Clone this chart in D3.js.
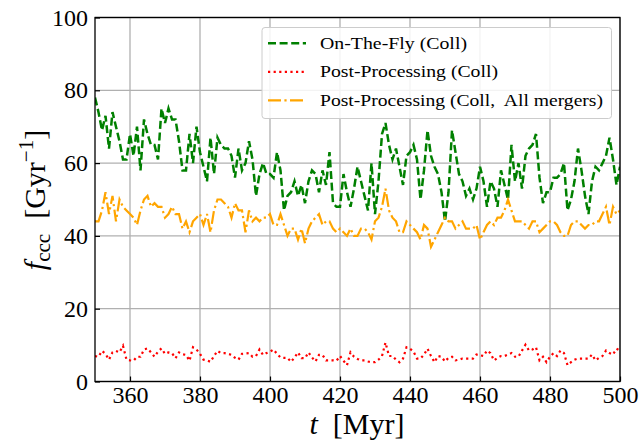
<!DOCTYPE html>
<html><head><meta charset="utf-8">
<script src="https://cdn.jsdelivr.net/npm/d3@7"></script>
<style>
html,body{margin:0;padding:0;background:#fff;}
svg{display:block;font-family:"Liberation Serif","DejaVu Serif",serif;}
</style></head>
<body>
<script>
// time in Myr
const timeMyr = [350,351,352,353,354,355,356,357,358,359,360,361,362,363,364,365,366,367,368,369,370,371,372,373,374,375,376,377,378,379,380,381,382,383,384,385,386,387,388,389,390,391,392,393,394,395,396,397,398,399,400,401,402,403,404,405,406,407,408,409,410,411,412,413,414,415,416,417,418,419,420,421,422,423,424,425,426,427,428,429,430,431,432,433,434,435,436,437,438,439,440,441,442,443,444,445,446,447,448,449,450,451,452,453,454,455,456,457,458,459,460,461,462,463,464,465,466,467,468,469,470,471,472,473,474,475,476,477,478,479,480,481,482,483,484,485,486,487,488,489,490,491,492,493,494,495,496,497,498,499,500];

const onTheFly = [78,74,69,73,64,74,70,66,61,61,68,62,70,58,72,68,65,65,61,75,71,75,72,72,66,58,58,68,60,70,63,59,55,67,57,67,65,64,64,62,56,64,58,60,66,61,51,57,60,57,57,56,63,58,47,51,52,55,51,54,49,55,58,57,52,58,54,63,49,48,48,57,52,48,53,59,55,51,47,60,46,55,68,71,65,61,64,59,54,62,63,65,61,50,58,69,62,59,57,52,44,52,69,63,57,55,51,53,50,53,59,55,48,55,53,48,58,54,50,65,55,60,53,62,64,65,68,56,49,52,52,56,56,57,60,47,50,55,64,58,51,46,55,59,58,60,62,67,61,54,59];

const postProc = [7.0,6.8,8.4,7.6,6.0,8.0,8.4,8.0,9.8,6.0,5.8,5.7,6.8,6.8,8.8,9.1,8.0,6.8,8.2,9.1,7.6,8.0,7.8,6.4,8.0,7.5,7.3,5.7,9.4,8.8,7.6,6.0,5.8,5.4,7.0,8.4,7.8,7.8,7.6,7.3,6.5,6.0,7.6,7.7,7.8,6.8,7.0,8.8,7.3,7.8,8.2,8.8,7.6,6.6,6.5,6.5,5.4,6.6,8.0,6.4,6.4,8.0,6.6,5.5,7.3,7.3,5.8,5.8,5.8,5.7,7.0,5.7,4.5,8.0,6.8,6.2,5.8,5.8,5.5,5.3,5.3,6.0,7.0,10.7,7.0,7.0,6.0,5.3,6.3,9.4,9.0,8.2,6.3,6.3,7.4,9.0,7.0,5.3,7.0,6.8,5.5,6.5,6.8,5.8,6.0,6.3,6.3,6.3,6.3,7.4,7.2,7.0,8.5,7.8,5.8,6.5,7.0,7.0,7.4,7.8,6.8,6.8,8.5,10.1,8.5,8.8,9.4,5.8,6.8,5.3,6.8,7.8,7.0,8.5,7.8,4.5,5.3,6.0,6.3,6.3,6.3,6.3,7.4,5.8,6.5,7.0,8.5,7.8,7.4,9.0,8.5];

const postProcAll = [44,44,47,52,46,51,44,50,48,47,46,45,43,47,50,51,48,49,48,48,45,46,48,46,46,42,44,41,44,45,46,43,46,41,47,50,50,49,48,45,49,47,47,41,47,44,45,44,45,45,46,43,43,46,43,40,42,42,39,42,38,42,44,45,46,43,44,44,42,41,42,41,40,42,40,40,42,42,41,39,44,45,48,53,47,45,44,41,41,44,43,42,41,39,43,42,37,39,41,43,45,44,44,42,43,44,42,42,42,43,39,41,43,44,43,45,45,47,50,47,44,44,44,43,42,44,44,41,42,43,44,44,43,41,40,40,43,44,44,43,42,43,43,44,44,46,48,43,48,46,47];

const seriesNames = ["On-The-Fly (Coll)", "Post-Processing (Coll)", "Post-Processing (Coll,\u00a0 All mergers)"];
const xTicks = [360,380,400,420,440,460,480,500];
const yTicks = [0,20,40,60,80,100];

const W = 640, H = 441;
const L = 95, R = 620, T = 17.5, B = 381.5;

const svg = d3.select("body").append("svg").attr("width", W).attr("height", H);
const x = d3.scaleLinear().domain([350,500]).range([L,R]);
const y = d3.scaleLinear().domain([0,100]).range([B,T]);

svg.append("defs").append("clipPath").attr("id","clip")
  .append("rect").attr("x",L).attr("y",T).attr("width",R-L).attr("height",B-T);

// grid
const grid = svg.append("g");
grid.selectAll("line.gx").data(xTicks).join("line")
  .attr("x1",d=>x(d)).attr("x2",d=>x(d)).attr("y1",T).attr("y2",B)
  .attr("stroke","#b0b0b0").attr("stroke-width",1.3);
grid.selectAll("line.gy").data(yTicks).join("line")
  .attr("y1",d=>y(d)).attr("y2",d=>y(d)).attr("x1",L).attr("x2",R)
  .attr("stroke","#b0b0b0").attr("stroke-width",1.3);

// lines
const series = [
  {vals: onTheFly, color: "#008000", dash: "8,3.6", w: 2.5},
  {vals: postProc, color: "#ff0000", dash: "2.2,3.4", w: 2.2},
  {vals: postProcAll, color: "#ffa500", dash: "13,3.4,2.2,3.4", w: 2.2}
];
const lineGen = d3.line().x((d,i)=>x(timeMyr[i])).y(d=>y(d));
const lg = svg.append("g").attr("clip-path","url(#clip)");
series.forEach(s=>{
  lg.append("path").datum(s.vals).attr("d", lineGen)
    .attr("fill","none").attr("stroke",s.color).attr("stroke-width",s.w)
    .attr("stroke-dasharray",s.dash);
});

// axes with inward ticks
const xAxis = d3.axisBottom(x).tickValues(xTicks).tickSize(-5).tickPadding(4).tickFormat(d3.format("d"));
const yAxis = d3.axisLeft(y).tickValues(yTicks).tickSize(-5).tickPadding(7).tickFormat(d3.format("d"));
const gx = svg.append("g").attr("transform",`translate(0,${B})`).call(xAxis);
const gy = svg.append("g").attr("transform",`translate(${L},0)`).call(yAxis);
[gx,gy].forEach(g=>{
  g.select(".domain").remove();
  g.selectAll(".tick line").attr("stroke","#000").attr("stroke-width",1.2);
  g.selectAll("text").attr("font-family",'"Liberation Serif","DejaVu Serif",serif')
    .attr("font-size",24).attr("fill","#000");
});
gx.selectAll("text").attr("dy","0.71em");

// frame
svg.append("rect").attr("x",L).attr("y",T).attr("width",R-L).attr("height",B-T)
  .attr("fill","none").attr("stroke","#000").attr("stroke-width",1.3);

// legend
const leg = svg.append("g");
leg.append("rect").attr("x",262).attr("y",27.5).attr("width",349.5).attr("height",91)
  .attr("rx",3).attr("fill","#fff").attr("fill-opacity",0.85)
  .attr("stroke","#cccccc").attr("stroke-width",1);
const rowY = [43.3, 71.8, 100.3];
const textW = [147, 178, 283];
series.forEach((s,i)=>{
  leg.append("line").attr("x1",268).attr("x2",306).attr("y1",rowY[i]).attr("y2",rowY[i])
    .attr("stroke",s.color).attr("stroke-width",s.w).attr("stroke-dasharray",s.dash);
  leg.append("text").attr("x",320).attr("y",rowY[i]+5.5)
    .attr("font-size",17.5).attr("fill","#000")
    .attr("textLength",textW[i]).attr("lengthAdjust","spacingAndGlyphs")
    .text(seriesNames[i]);
});

// x label
const xl = svg.append("text").attr("x",357).attr("y",434).attr("text-anchor","middle")
  .attr("font-size",30).attr("fill","#000");
xl.append("tspan").attr("font-style","italic").text("t");
xl.append("tspan").text("\u2002[Myr]");

// y label
const yl = svg.append("text").attr("transform","translate(45,200) rotate(-90)")
  .attr("text-anchor","middle").attr("font-size",30).attr("fill","#000");
yl.append("tspan").attr("font-style","italic").text("f");
yl.append("tspan").attr("font-size",21).attr("dy",5).text("ccc");
yl.append("tspan").attr("dy",-5).text("\u2002[Gyr");
yl.append("tspan").attr("font-size",21).attr("dy",-12).text("\u22121");
yl.append("tspan").attr("dy",12).text("]");
</script>
</body></html>
